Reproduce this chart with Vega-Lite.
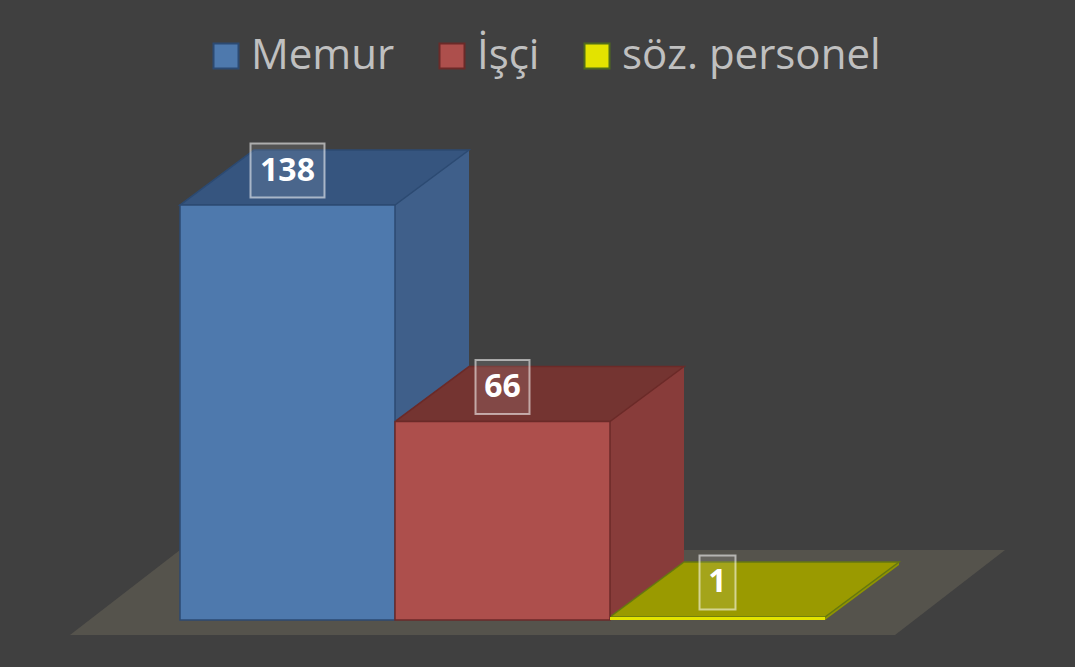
{
  "$schema": "https://vega.github.io/schema/vega-lite/v6.json",
  "width": 645,
  "height": 451,
  "autosize": {"type": "none"},
  "padding": {"left": 180, "top": 169, "right": 250, "bottom": 47},
  "background": "#404040",
  "config": {"view": {"stroke": null}},
  "data": {"values": [
    {"cat": "Memur", "value": 138},
    {"cat": "İşçi", "value": 66},
    {"cat": "söz. personel", "value": 1}
  ]},
  "encoding": {
    "x": {"field": "cat", "type": "nominal", "sort": null, "axis": null,
          "scale": {"paddingInner": 0, "paddingOuter": 0}}
  },
  "layer": [
    {
      "transform": [{"filter": "datum.cat === 'Memur'"}],
      "mark": {"type": "point", "filled": true, "opacity": 1, "size": 4, "fill": "#55534c", "strokeWidth": 0,
               "shape": "M-217.5,15L607.5,15L717.5,-70L-107.5,-70Z"},
      "encoding": {"y": {"datum": 0, "type": "quantitative", "axis": null, "scale": {"domain": [0, 150], "nice": false}}}
    },
    {
      "mark": {"type": "bar", "xOffset": 74, "yOffset": -55, "y2Offset": -55, "strokeWidth": 0},
      "encoding": {
        "y": {"field": "value", "type": "quantitative", "axis": null, "scale": {"domain": [0, 150], "nice": false}},
        "fill": {"condition": [{"test": "datum.cat === 'Memur'", "value": "#3f5f8a"}, {"test": "datum.cat === 'İşçi'", "value": "#883c3a"}], "value": "#8f9400"}
      }
    },
    {
      "mark": {"type": "point", "filled": true, "opacity": 1, "size": 4, "strokeWidth": 0,
               "shape": "M107.5,-55L181.5,-55L107.5,0Z"},
      "encoding": {
        "y": {"datum": 0, "type": "quantitative"},
        "fill": {"condition": [{"test": "datum.cat === 'Memur'", "value": "#3f5f8a"}, {"test": "datum.cat === 'İşçi'", "value": "#883c3a"}], "value": "#8f9400"}
      }
    },
    {
      "mark": {"type": "point", "filled": true, "opacity": 1, "size": 4, "strokeWidth": 1.5,
               "shape": "M-107.5,0L107.5,0L181.5,-55L-33.5,-55Z"},
      "encoding": {
        "y": {"field": "value", "type": "quantitative"},
        "fill": {"condition": [{"test": "datum.cat === 'Memur'", "value": "#36557f"}, {"test": "datum.cat === 'İşçi'", "value": "#743431"}], "value": "#9a9a00"},
        "stroke": {"condition": [{"test": "datum.cat === 'Memur'", "value": "#2c4a72"}, {"test": "datum.cat === 'İşçi'", "value": "#6b2a28"}], "value": "#66780f"}
      }
    },
    {
      "mark": {"type": "bar", "strokeWidth": 1.5},
      "encoding": {
        "y": {"field": "value", "type": "quantitative"},
        "fill": {"field": "cat", "type": "nominal",
                 "scale": {"domain": ["Memur", "İşçi", "söz. personel"], "range": ["#4e79ad", "#ad4f4c", "#e3e300"]},
                 "legend": {"orient": "none", "legendX": 25, "legendY": -134, "direction": "horizontal",
                            "title": null, "symbolType": "square", "symbolSize": 625, "symbolStrokeWidth": 2,
                            "labelFont": "Open Sans", "labelFontSize": 42, "labelColor": "#c0c0c0",
                            "labelOffset": 4, "columnPadding": 36, "labelLimit": 500, "padding": 0}},
        "stroke": {"field": "cat", "type": "nominal",
                   "scale": {"domain": ["Memur", "İşçi", "söz. personel"], "range": ["#2c4a72", "#6b2a28", "#4f6b1c"]}},
        "strokeOpacity": {"condition": {"test": "datum.cat === 'söz. personel'", "value": 0}, "value": 1}
      }
    },
    {
      "mark": {"type": "point", "filled": true, "opacity": 1, "size": 4, "yOffset": -34.5,
               "fill": "#ffffff", "fillOpacity": 0.1, "stroke": "#ffffff", "strokeOpacity": 0.55, "strokeWidth": 2},
      "encoding": {
        "y": {"field": "value", "type": "quantitative"},
        "shape": {"condition": [{"test": "datum.cat === 'Memur'", "value": "M-37,-27L37,-27L37,27L-37,27Z"}, {"test": "datum.cat === 'İşçi'", "value": "M-27,-27L27,-27L27,27L-27,27Z"}], "value": "M-18,-27L18,-27L18,27L-18,27Z"}
      }
    },
    {
      "mark": {"type": "text", "yOffset": -34.5, "baseline": "middle", "align": "center",
               "font": "Open Sans", "fontWeight": "bold", "fontSize": 32, "fill": "#ffffff"},
      "encoding": {
        "y": {"field": "value", "type": "quantitative"},
        "text": {"field": "value", "type": "quantitative"}
      }
    }
  ]
}
